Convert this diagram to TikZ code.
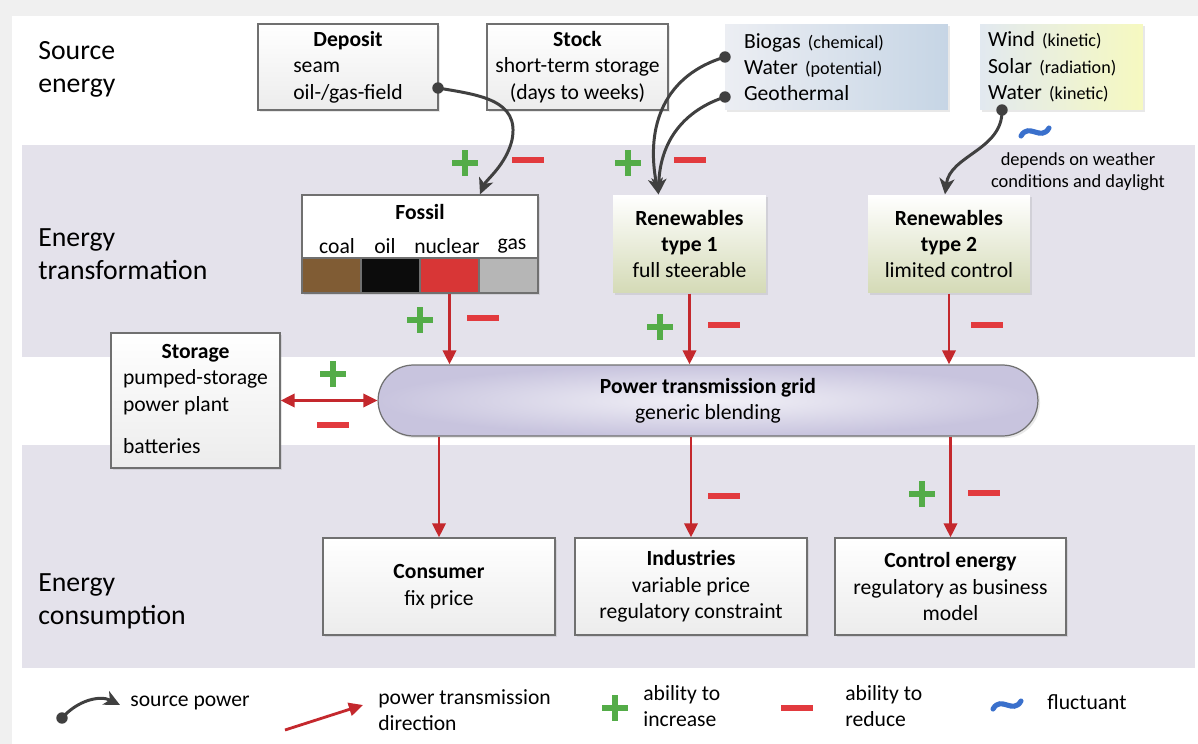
\documentclass[tikz,border=0pt]{standalone}
\usepackage{fontspec}
\setmainfont{Carlito}
\usetikzlibrary{arrows.meta,calc,shadows}
\definecolor{bandgray}{RGB}{228,226,235}
\definecolor{framegray}{RGB}{240,240,240}
\definecolor{boxline}{RGB}{112,112,112}
\definecolor{boxfoot}{RGB}{236,236,236}
\definecolor{srcline}{RGB}{64,64,64}
\definecolor{flowred}{RGB}{196,40,45}
\definecolor{minusred}{RGB}{226,58,62}
\definecolor{plusgreen}{RGB}{84,172,72}
\definecolor{waveblue}{RGB}{58,112,204}
\definecolor{coalbrown}{RGB}{128,92,52}
\definecolor{oilblack}{RGB}{12,12,12}
\definecolor{nuclearred}{RGB}{216,54,54}
\definecolor{gasgray}{RGB}{182,182,182}
\definecolor{greenfoot}{RGB}{212,218,182}
\definecolor{bluehead}{RGB}{236,238,243}
\definecolor{bluefoot}{RGB}{198,213,229}
\definecolor{windhead}{RGB}{226,233,240}
\definecolor{yellowfoot}{RGB}{246,249,192}
\definecolor{gridouter}{RGB}{200,196,222}
\definecolor{gridinner}{RGB}{242,241,247}
\newcommand\kindfont{\fontsize{10.3}{15}\selectfont}
\begin{document}
\begin{tikzpicture}[x=0.02cm, y=-0.02cm,
  txt/.style={font=\fontsize{12.3}{15}\selectfont, inner sep=0pt},
  section/.style={font=\fontsize{15.8}{18.7}\selectfont, inner sep=0pt, anchor=west, align=left},
  lifted/.style={drop shadow={shadow xshift=1.2pt, shadow yshift=-1.2pt, opacity=0.18, fill=black!50}},
  part/.style={txt, draw=boxline, line width=0.7pt, top color=white, bottom color=boxfoot, align=center, lifted},
  cell/.style={draw=boxline, line width=0.7pt, minimum width=1.18cm, minimum height=0.7cm, inner sep=0pt},
  knob/.style={circle, fill=srcline, inner sep=0pt, minimum size=6.5pt},
  flow/.style={draw=flowred, line width=1.6pt, -{Triangle[length=8pt,width=7.5pt]}},
  flowboth/.style={flow, {Triangle[length=8pt,width=7.5pt]}-{Triangle[length=8pt,width=7.5pt]}},
  feed/.style={draw=srcline, line width=1.7pt, -{Stealth[length=9pt,width=8.5pt,inset=2.5pt]}},
  incmark/.pic={\draw[plusgreen, line width=2.9pt] (-13,0) -- (13,0) (0,-13) -- (0,13);},
  decmark/.pic={\draw[minusred, line width=2.9pt] (-16,0) -- (16,0);},
  wavemark/.pic={\draw[waveblue, line width=2.9pt, line cap=round] (-14,4) .. controls (-6,-10) and (6,10) .. (14,-4);}]
\useasboundingbox (0,0) rectangle (1198,744);
\fill[framegray] (0,0) rectangle (1198,744);
\fill[white] (12,16) rectangle (1198,744);
\fill[bandgray] (22,145) rectangle (1195,357);
\fill[bandgray] (22,445) rectangle (1195,668);

\draw (38, 69) node[section] (srclabel) {Source\\energy};
\draw (38, 254) node[section] (trafolabel) {Energy\\transformation};
\draw (38, 601) node[section] (uselabel) {Energy\\consumption};

\draw (348, 67) node[part, minimum width=3.6cm, minimum height=1.72cm] (deposit) {\textbf{Deposit}\\\rlap{seam}\phantom{oil-/gas-field}\\oil-/gas-field};
\draw (577.5, 67) node[part, minimum width=3.62cm, minimum height=1.72cm] (stock) {\textbf{Stock}\\short-term storage\\(days to weeks)};
\draw (836.5, 67) node[part, draw=none, left color=bluehead, right color=bluefoot, text width=3.7cm, inner xsep=0.38cm, minimum height=1.72cm, align=left] (steady) {Biogas {\kindfont(chemical)}\\Water {\kindfont(potential)}\\Geothermal};
\draw (1061.5, 67) node[part, draw=none, left color=windhead, right color=yellowfoot, text width=2.94cm, inner xsep=0.16cm, minimum height=1.72cm, align=left] (weather) {Wind {\kindfont(kinetic)}\\Solar {\kindfont(radiation)}\\Water {\kindfont(kinetic)}};
\pic at (1035, 132) {wavemark};
\draw (1078, 172) node[txt, font=\fontsize{10.5}{12.5}\selectfont, align=center] (daylight) {depends on weather\\conditions and daylight};

\draw (420, 244) node[draw=boxline, line width=0.7pt, fill=white, minimum width=4.72cm, minimum height=1.96cm, lifted] (fossil) {};
\draw (420, 212) node[txt] (fossiltitle) {\textbf{Fossil}};
\draw (331.5, 275.5) node[cell, fill=coalbrown] (coal) {};
\draw (390.5, 275.5) node[cell, fill=oilblack] (oil) {};
\draw (449.5, 275.5) node[cell, fill=nuclearred] (nuclear) {};
\draw (508.5, 275.5) node[cell, fill=gasgray] (gas) {};
\draw (337, 246) node[txt] (coaltext) {coal};
\draw (385, 246) node[txt] (oiltext) {oil};
\draw (447, 246) node[txt] (nucleartext) {nuclear};
\draw (512, 246) node[txt] (gastext) {gas};
\draw (689.5, 244) node[part, bottom color=greenfoot, draw=none, minimum width=3.06cm, minimum height=1.96cm] (renone) {\textbf{Renewables}\\\textbf{type 1}\\full steerable};
\draw (949, 244) node[part, bottom color=greenfoot, draw=none, minimum width=3.24cm, minimum height=1.96cm] (rentwo) {\textbf{Renewables}\\\textbf{type 2}\\limited control};

\draw (195.5, 400.5) node[part, minimum width=3.38cm, minimum height=2.7cm] (storage) {\textbf{Storage}\\pumped-storage\\\rlap{power plant}\phantom{pumped-storage}\\[9pt]\rlap{batteries}\phantom{pumped-storage}};
\draw (708, 400.5) node[part, rounded corners=0.71cm, inner color=gridinner, outer color=gridouter, minimum width=13.2cm, minimum height=1.42cm] (grid) {\textbf{Power transmission grid}\\generic blending};

\draw (439, 586.5) node[part, minimum width=4.64cm, minimum height=1.94cm] (consumer) {\textbf{Consumer}\\fix price};
\draw (691, 586.5) node[part, minimum width=4.64cm, minimum height=1.94cm] (industry) {\textbf{Industries}\\variable price\\regulatory constraint};
\draw (950.5, 586.5) node[part, minimum width=4.62cm, minimum height=1.94cm] (control) {\textbf{Control energy}\\regulatory as business\\model};

\draw (438, 88) node[knob] (depknob) {};
\draw (725, 57) node[knob] (bioknob) {};
\draw (725, 97) node[knob] (geoknob) {};
\draw (1002, 110) node[knob] (windknob) {};
\draw[feed] (depknob.center) .. controls (480,95) and (520,100) .. (512,140) .. controls (506,165) and (486,180) .. ($(fossil.north)+(60,0)$);
\draw[feed] (bioknob.center) .. controls (665,75) and (645,125) .. ($(renone.north)+(-31,0)$);
\draw[feed] (geoknob.center) .. controls (685,110) and (660,140) .. ($(renone.north)+(-31,0)$);
\draw[feed] (windknob.center) .. controls (1003,150) and (950,155) .. ($(rentwo.north)+(-4,0)$);

\draw[flow] (nuclear.south) -- (nuclear.south |- grid.north);
\draw[flow] (renone.south) -- (renone.south |- grid.north);
\draw[flow] (rentwo.south) -- (rentwo.south |- grid.north);
\draw[flowboth] (storage.east) -- (grid.west);
\draw[flow] (grid.south -| consumer.north) -- (consumer.north);
\draw[flow] (grid.south -| industry.north) -- (industry.north);
\draw[flow] (grid.south -| control.north) -- (control.north);

\pic at (465, 163) {incmark};
\pic at (528, 160) {decmark};
\pic at (628, 163) {incmark};
\pic at (690, 160) {decmark};
\pic at (420, 320) {incmark};
\pic at (483, 318) {decmark};
\pic at (660, 327) {incmark};
\pic at (724, 325) {decmark};
\pic at (987, 325) {decmark};
\pic at (333, 374) {incmark};
\pic at (333, 425) {decmark};
\pic at (724, 496) {decmark};
\pic at (922, 494) {incmark};
\pic at (984, 493) {decmark};

\draw (62, 718) node[knob] (legknob) {};
\coordinate (leghead) at (120, 705);
\draw[feed] (legknob.center) .. controls (78,700) and (100,695) .. (leghead);
\draw (130, 703) node[txt, anchor=west] (legsource) {source power};
\coordinate (legtail) at (285, 730);
\coordinate (legtip) at (363, 705);
\draw[flow] (legtail) -- (legtip);
\draw (378, 710) node[txt, anchor=west, align=left] (legflow) {power transmission\\direction};
\pic at (615, 708) {incmark};
\draw (643, 706) node[txt, anchor=west, align=left] (leginc) {ability to\\increase};
\pic at (797, 708) {decmark};
\draw (845, 706) node[txt, anchor=west, align=left] (legdec) {ability to\\reduce};
\pic at (1007, 705) {wavemark};
\draw (1047, 702) node[txt, anchor=west] (legwave) {fluctuant};
\end{tikzpicture}
\end{document}
